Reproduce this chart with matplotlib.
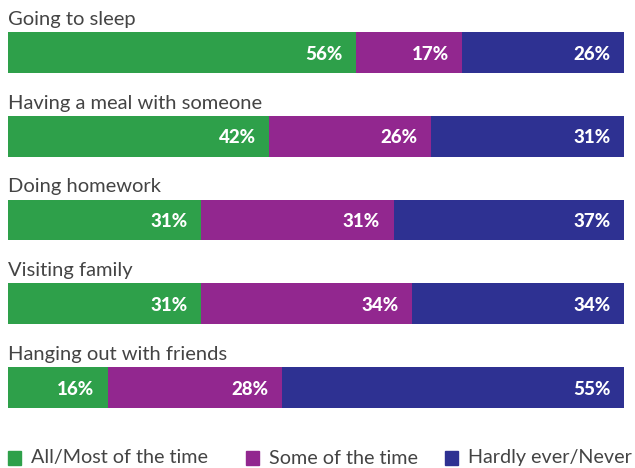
import matplotlib
matplotlib.use("Agg")
import matplotlib.pyplot as plt
from matplotlib.patches import Rectangle

categories = ["Going to sleep", "Having a meal with someone", "Doing homework",
              "Visiting family", "Hanging out with friends"]
series_names = ["All/Most of the time", "Some of the time", "Hardly ever/Never"]
all_most = [56, 42, 31, 31, 16]
some = [17, 26, 31, 34, 28]
hardly = [26, 31, 37, 34, 55]
colors = ["#2EA04A", "#92278F", "#2E3192"]

plt.rcParams['font.family'] = ['Lato', 'DejaVu Sans']

W, H = 635, 468
fig = plt.figure(figsize=(W / 100, H / 100), dpi=100)
top_px, bot_px = 32, 408
left_px, right_px = 8, 624
ax = fig.add_axes([left_px / W, 1 - bot_px / H, (right_px - left_px) / W, (bot_px - top_px) / H])

h = 0.488
series = [all_most, some, hardly]
total = max(a + b + c for a, b, c in zip(*series))
for i, cat in enumerate(categories):
    left = 0
    for s, col in zip(series, colors):
        v = s[i]
        ax.barh(i, v, left=left, height=h, color=col, edgecolor='none')
        ax.text(left + v - 2.2, i + 0.02, f"{v}%", ha='right', va='center', color='white',
                fontsize=13.5, fontweight='black')
        left += v
    ax.text(0, i - h / 2 - 0.085, cat, ha='left', va='baseline', color='#444444', fontsize=14.5)

ax.set_xlim(0, total)
ax.set_ylim(len(categories) - 1 + h / 2, -h / 2)
ax.axis('off')

# legend
leg_x = [8, 246, 445]
for name, col, x in zip(series_names, colors, leg_x):
    fig.patches.append(Rectangle((x / W, 1 - 465 / H), 13 / W, 14 / H, transform=fig.transFigure,
                                 color=col, figure=fig))
    fig.text((x + 23) / W, 1 - 458 / H, name, ha='left', va='center', color='#444444', fontsize=14.2)

fig.savefig("out.png", dpi=100)
